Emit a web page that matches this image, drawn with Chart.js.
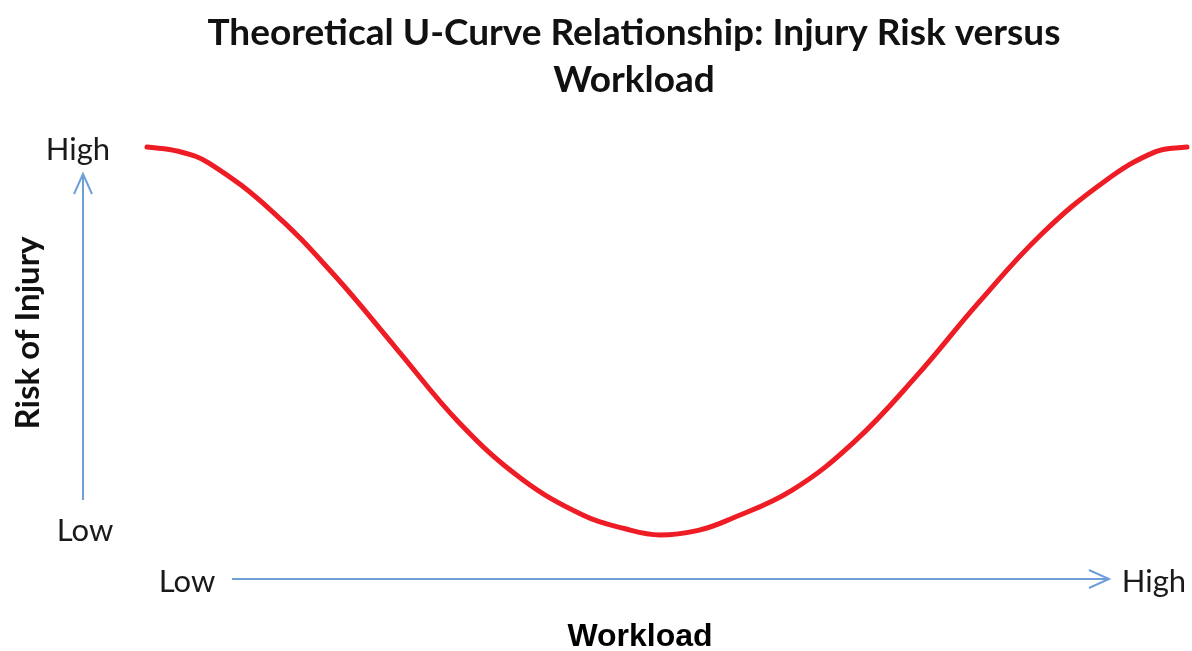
<!DOCTYPE html>
<html>
<head>
<meta charset="utf-8">
<title>Theoretical U-Curve Relationship</title>
<script src="https://cdn.jsdelivr.net/npm/chart.js@4.4.1/dist/chart.umd.min.js"></script>
<style>
  html, body { margin: 0; padding: 0; background: #fff; }
  canvas { display: block; }
</style>
</head>
<body>
<canvas id="myChart" width="1192" height="651"></canvas>
<script>
// workload (0 = low, 100 = high) and risk of injury (0 = low, 100 = high)
var workload = [0, 3, 6, 12, 18, 24, 30, 36, 42, 46, 49.3, 53, 56, 62, 68, 74, 80, 86, 92, 97, 100];
var risk     = [100, 98.9, 95.8, 83.5, 67, 48, 29, 14.5, 5, 1.6, 0, 1.2, 4, 11.5, 24, 41, 60, 77.5, 91, 98.8, 100];

var titleLines = ['Theoretical U-Curve Relationship: Injury Risk versus', 'Workload'];
var xTickLabels = ['Low', 'High'];
var yTickLabels = ['Low', 'High'];
var xTitle = 'Workload';
var yTitle = 'Risk of Injury';

var points = [];
for (var i = 0; i < workload.length; i++) {
    points.push({ x: workload[i], y: risk[i] });
}

var arrowColor = '#6f9fd8';
var calibri = 'Lato, "Open Sans", sans-serif';

function arrowHead(ctx, x, y, dir) {
    // open chevron head
    ctx.beginPath();
    if (dir === 'up') {
        ctx.moveTo(x - 9, y + 20);
        ctx.lineTo(x, y);
        ctx.lineTo(x + 9, y + 20);
    } else {
        ctx.moveTo(x - 20, y - 9);
        ctx.lineTo(x, y);
        ctx.lineTo(x - 20, y + 9);
    }
    ctx.stroke();
}

var decorations = {
    id: 'decorations',
    afterDraw: function(chart) {
        var ctx = chart.ctx;
        var ys = chart.scales.y;
        ctx.save();

        // title
        ctx.fillStyle = '#111';
        ctx.textAlign = 'center';
        ctx.textBaseline = 'middle';
        ctx.font = 'bold 37px ' + calibri;
        ctx.fillText(titleLines[0], 634, 33);
        ctx.fillText(titleLines[1], 634, 80);

        // axis arrows
        ctx.strokeStyle = arrowColor;
        ctx.lineWidth = 2;
        ctx.beginPath();
        ctx.moveTo(83, 500);
        ctx.lineTo(83, 174);
        ctx.stroke();
        arrowHead(ctx, 83, 174, 'up');

        ctx.beginPath();
        ctx.moveTo(232, 579);
        ctx.lineTo(1109, 579);
        ctx.stroke();
        arrowHead(ctx, 1109, 579, 'right');

        // tick labels
        ctx.fillStyle = '#1a1a1a';
        ctx.font = '31px ' + calibri;
        ctx.fillText(yTickLabels[1], 78, ys.getPixelForValue(100) + 3);
        ctx.fillText(yTickLabels[0], 85, ys.getPixelForValue(0) - 4);
        ctx.fillText(xTickLabels[0], 187, 582);
        ctx.fillText(xTickLabels[1], 1154, 582);

        // axis titles
        ctx.font = 'bold 32px "Liberation Sans", Arial, sans-serif';
        ctx.fillStyle = '#000';
        ctx.fillText(xTitle, 640, 637);

        ctx.save();
        ctx.translate(28, 333);
        ctx.rotate(-Math.PI / 2);
        ctx.font = 'bold 33px ' + calibri;
        ctx.fillStyle = '#111';
        ctx.fillText(yTitle, 0, 0);
        ctx.restore();

        ctx.restore();
    }
};

var ctx = document.getElementById('myChart').getContext('2d');
window.myChart = new Chart(ctx, {
    type: 'line',
    data: {
        datasets: [{
            label: 'Risk of Injury',
            data: points,
            borderColor: '#ee1c25',
            borderWidth: 5,
            pointRadius: 0,
            fill: false,
            tension: 0.4,
            borderCapStyle: 'round',
            clip: false
        }]
    },
    options: {
        responsive: false,
        animation: false,
        layout: {
            padding: { left: 147, right: 5, top: 147, bottom: 116 }
        },
        plugins: {
            legend: { display: false },
            tooltip: { enabled: false }
        },
        scales: {
            x: { type: 'linear', min: 0, max: 100, display: false },
            y: { type: 'linear', min: 0, max: 100, display: false }
        }
    },
    plugins: [decorations]
});
</script>
</body>
</html>
